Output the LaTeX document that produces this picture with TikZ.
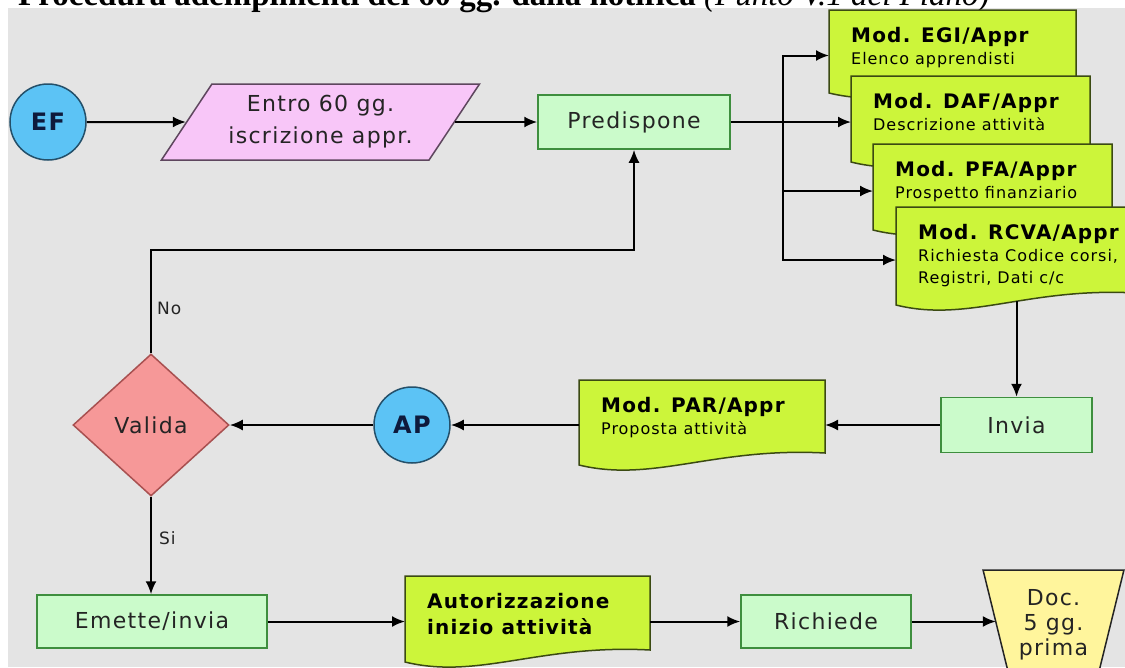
\documentclass[tikz,border=0pt]{standalone}
\usepackage{fontspec}
\newfontfamily\diafont[LetterSpace=6]{DejaVu Sans}
\newfontfamily\titfont{Liberation Serif}
\usetikzlibrary{shapes.geometric,arrows.meta}

\definecolor{sfondo}{HTML}{E4E4E4}
\definecolor{verdechiaro}{HTML}{CBFBCB}
\definecolor{verdebordo}{HTML}{3E8E3E}
\definecolor{verdelime}{HTML}{CCF53A}
\definecolor{olivabordo}{HTML}{3B4A12}
\definecolor{rosa}{HTML}{F8C6F8}
\definecolor{rosabordo}{HTML}{5E465E}
\definecolor{salmone}{HTML}{F69898}
\definecolor{rossobordo}{HTML}{A85050}
\definecolor{azzurro}{HTML}{5CC3F5}
\definecolor{blubordo}{HTML}{24506A}
\definecolor{blunotte}{HTML}{0E1A3C}
\definecolor{giallino}{HTML}{FFF59C}
\definecolor{testo}{HTML}{242424}

\tikzset{
  passo/.style={draw=verdebordo,fill=verdechiaro,line width=1.5pt,inner sep=0pt,
    text=testo,font=\diafont\fontsize{22}{26}\selectfont},
  cerchio/.style={circle,draw=blubordo,fill=azzurro,line width=1.5pt,minimum size=76pt,
    inner sep=0pt,text=blunotte,font=\diafont\bfseries\fontsize{24}{28}\selectfont},
  rombo/.style={diamond,draw=rossobordo,fill=salmone,line width=1.5pt,minimum width=156pt,
    minimum height=142pt,inner sep=0pt,text=testo,font=\diafont\fontsize{22}{26}\selectfont},
  parallelo/.style={trapezium,trapezium left angle=51,trapezium right angle=129,
    trapezium stretches=true,draw=rosabordo,fill=rosa,line width=1.5pt,minimum width=319pt,
    minimum height=76pt,inner sep=0pt,align=center,text=testo,
    font=\diafont\fontsize{22}{32}\selectfont},
  manuale/.style={trapezium,trapezium left angle=73,trapezium right angle=73,
    shape border rotate=180,trapezium stretches=true,draw=testo,fill=giallino,
    line width=1.5pt,minimum width=141pt,minimum height=110pt,inner sep=0pt,align=center,
    text=testo,font=\diafont\fontsize{22}{25}\selectfont},
  modulo/.style={draw=olivabordo,fill=verdelime,line width=1.5pt},
  testomod/.style={anchor=north west,inner sep=0pt,align=left,text=black,
    font=\diafont\fontsize{16}{22}\selectfont},
  freccia/.style={line width=2pt,-{Latex[length=13pt,width=11pt]}},
  etichetta/.style={inner sep=0pt,text=testo,font=\diafont\fontsize{17}{20}\selectfont},
  titolo/.style={anchor=base west,inner sep=0pt,font=\titfont\bfseries\fontsize{33}{36}\selectfont}
}

\newcommand{\modtit}[1]{{\bfseries\fontsize{20}{22}\selectfont #1}}
\newcommand{\foglio}[6]{% nome, x, y, larghezza, altezza, testo
  \draw[modulo] (#2,#3) -- ++(#4,0) -- ++(0,#5-12)
    .. controls +(-0.45*#4,-6) and +(0.3*#4,18) .. ++(-#4,12) -- cycle;
  \coordinate (#1) at (#2,#3+#5/2+4);
  \coordinate (#1-e) at (#2+#4,#3+#5/2+4);
  \coordinate (#1-s) at (#2+#4/2,#3+#5-4);
  \node[testomod] (#1-testo) at (#2+22,#3+17) {#6};
}

\begin{document}
\begin{tikzpicture}[x=1pt,y=-1pt]
  \path[use as bounding box,clip] (0,0) rectangle (1125,667);
  \fill[white] (0,0) rectangle (1125,667);
  \fill[sfondo] (8,8) rectangle (1125,667);
  \node[titolo] (titolo) at (18,5) {Procedura adempimenti dei 60 gg. dalla notifica {\mdseries\itshape(Punto V.1 del Piano)}};

  \node[cerchio] (ef) at (48,122) {EF};
  \node[parallelo] (entro) at (320.5,122) {Entro 60 gg.\\iscrizione appr.};
  \node[passo,minimum width=192,minimum height=54] (predispone) at (634,122) {Predispone};
  \foglio{egi}{829}{10}{247}{83}{\modtit{Mod. EGI/Appr}\\Elenco apprendisti}
  \foglio{daf}{851}{76}{239}{86}{\modtit{Mod. DAF/Appr}\\Descrizione attività}
  \foglio{pfa}{873}{144}{239}{86}{\modtit{Mod. PFA/Appr}\\Prospetto finanziario}
  \foglio{rcva}{896}{207}{240}{98}{\modtit{Mod. RCVA/Appr}\\Richiesta Codice corsi,\\Registri, Dati c/c}
  \coordinate (bus) at (783,122);

  \node[passo,minimum width=151,minimum height=55] (invia) at (1016.5,425) {Invia};
  \foglio{par}{579}{380}{246}{85}{\modtit{Mod. PAR/Appr}\\Proposta attività}
  \node[cerchio] (ap) at (412,425) {AP};
  \node[rombo] (valida) at (151,425) {Valida};

  \node[passo,minimum width=230,minimum height=53] (emette) at (152,621.5) {Emette/invia};
  \foglio{aut}{405}{576}{245}{86}{\modtit{Autorizzazione}\\[4pt]\modtit{inizio attività}}
  \node[passo,minimum width=170,minimum height=53] (richiede) at (826,621.5) {Richiede};
  \node[manuale] (doc) at (1053.5,625) {Doc.\\5 gg.\\prima};

  \node[etichetta,anchor=west] (no) at (157,308) {No};
  \node[etichetta,anchor=west] (si) at (159,538) {Si};

  \draw[freccia] (ef) -- (entro);
  \draw[freccia] (entro.east) -- (entro.east -| predispone.west);
  \draw[freccia] (predispone.east) -- (predispone.east -| daf);
  \draw[freccia] (bus) |- (egi);
  \draw[freccia] (bus) |- (pfa);
  \draw[freccia] (bus) |- (rcva);
  \draw[freccia] (invia.north |- rcva-s) -- (invia.north);
  \draw[freccia] (invia.west) -- (invia.west -| par-e);
  \draw[freccia] (ap.east -| par) -- (ap.east);
  \draw[freccia] (ap.west) -- (valida.east);
  \draw[freccia] (valida.north) -- (valida.north |- 0,250) -| (predispone.south);
  \draw[freccia] (valida.south) -- (valida.south |- emette.north);
  \draw[freccia] (emette.east) -- (emette.east -| aut);
  \draw[freccia] (richiede.west -| aut-e) -- (richiede.west);
  \draw[freccia] (richiede.east) -- (richiede.east -| doc.west);
\end{tikzpicture}
\end{document}
